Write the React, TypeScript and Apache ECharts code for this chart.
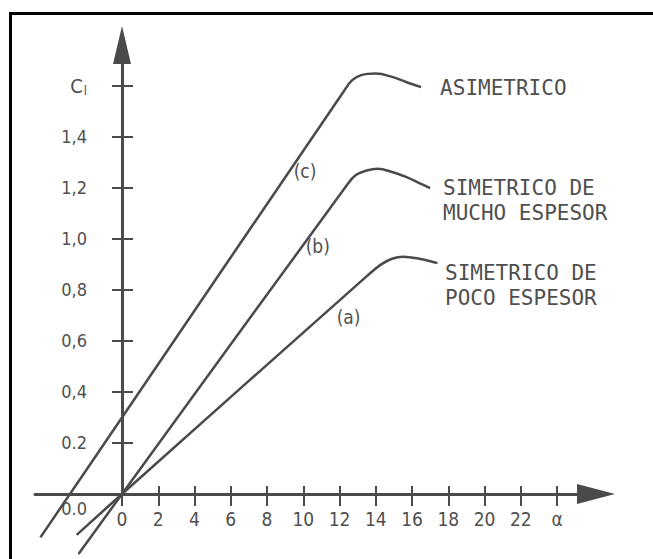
import React, { useEffect, useRef } from 'react';
import * as echarts from 'echarts';

// Axis ticks and labels
const alphaTickValues = [0, 2, 4, 6, 8, 10, 12, 14, 16, 18, 20, 22, 24];
const alphaTickLabels = ['0', '2', '4', '6', '8', '10', '12', '14', '16', '18', '20', '22', 'α'];
const clTickValues = [0.2, 0.4, 0.6, 0.8, 1.0, 1.2, 1.4, 1.6];
const clLabelValues = [0, 0.2, 0.4, 0.6, 0.8, 1.0, 1.2, 1.4, 1.6];
const clTickLabels = ['0.0', '0.2', '0,4', '0,6', '0,8', '1,0', '1,2', '1,4', 'C_l'];

// (c) Asimétrico
const asimAlpha = [-4.5, 0, 12.2, 12.7, 13.2, 14.0, 14.9, 15.7, 16.5];
const asimCl = [-0.17, 0.3, 1.575, 1.622, 1.642, 1.648, 1.635, 1.614, 1.595];
// (b) Simétrico de mucho espesor
const muchoAlpha = [-2.4, 0, 12.4, 12.9, 13.5, 14.1, 14.9, 15.7, 16.4, 17.0];
const muchoCl = [-0.235, 0, 1.21, 1.25, 1.268, 1.275, 1.262, 1.242, 1.219, 1.199];
// (a) Simétrico de poco espesor
const pocoAlpha = [-2.5, 0, 13.6, 14.3, 14.9, 15.5, 16.4, 17.4];
const pocoCl = [-0.16, 0, 0.86, 0.9, 0.922, 0.93, 0.922, 0.905];

const INK = '#4a4a4a';
const TEXT = '#4f4f4f';
const NUM_FONT = "'DejaVu Sans Condensed', 'Liberation Sans Narrow', 'DejaVu Sans', sans-serif";
const NAME_FONT = "'DejaVu Sans Mono', monospace";

const zip = (xs: number[], ys: number[]) => xs.map((x, i) => [x, ys[i]]);

function nameMark(coord: number[], text: string) {
  return {
    coord,
    symbol: 'circle',
    symbolSize: 0,
    label: {
      show: true,
      position: 'right',
      distance: 0,
      formatter: text,
      color: TEXT,
      fontFamily: NAME_FONT,
      fontSize: 21,
      lineHeight: 25,
      align: 'left',
    },
  };
}

function tagMark(coord: number[], text: string) {
  return {
    coord,
    symbol: 'circle',
    symbolSize: 0,
    label: {
      show: true,
      position: 'inside',
      formatter: text,
      color: TEXT,
      fontFamily: NUM_FONT,
      fontSize: 19,
    },
  };
}

function curve(xs: number[], ys: number[], marks: any[]) {
  return {
    type: 'line',
    data: zip(xs, ys),
    showSymbol: false,
    symbol: 'none',
    clip: false,
    smooth: 0.4,
    lineStyle: { color: INK, width: 2.5 },
    markPoint: { silent: true, animation: false, data: marks },
  };
}

const xBase = {
  type: 'value',
  min: -4.8,
  max: 26.15,
  position: 'bottom',
  splitLine: { show: false },
};
const yBase = {
  type: 'value',
  min: 0,
  max: 1.76,
  position: 'left',
  splitLine: { show: false },
};

export default function App() {
  const ref = useRef<HTMLDivElement>(null);
  useEffect(() => {
    const chart = echarts.init(ref.current!, null, { renderer: 'svg' });
    chart.setOption({
      animation: false,
      backgroundColor: '#ffffff',
      grid: { left: 35, right: 57, top: 45, bottom: 65, containLabel: false, outerBoundsMode: 'none' },
      xAxis: [
        {
          ...xBase,
          axisLine: {
            show: true,
            onZero: true,
            symbol: ['none', 'triangle'],
            symbolSize: [20, 38],
            lineStyle: { color: INK, width: 3 },
          },
          axisTick: {
            show: true,
            customValues: alphaTickValues,
            length: 12,
            lineStyle: { color: INK, width: 2 },
          },
          axisLabel: {
            show: true,
            customValues: alphaTickValues,
            margin: 15,
            color: TEXT,
            fontFamily: NUM_FONT,
            fontSize: 19,
            formatter: (v: number) => {
              const i = alphaTickValues.findIndex((t) => Math.abs(t - v) < 1e-6);
              return i >= 0 ? alphaTickLabels[i] : '';
            },
          },
        },
        {
          ...xBase,
          axisLine: { show: false, onZero: true },
          axisTick: {
            show: true,
            inside: true,
            customValues: alphaTickValues,
            length: 8,
            lineStyle: { color: INK, width: 2 },
          },
          axisLabel: { show: false },
        },
      ],
      yAxis: [
        {
          ...yBase,
          axisLine: {
            show: true,
            onZero: true,
            onZeroAxisIndex: 0,
            symbol: ['none', 'triangle'],
            symbolSize: [18, 38],
            lineStyle: { color: INK, width: 3 },
          },
          axisTick: {
            show: true,
            customValues: clTickValues,
            length: 10,
            lineStyle: { color: INK, width: 2 },
          },
          axisLabel: {
            show: true,
            customValues: clLabelValues,
            // labels of an on-zero axis stay at the grid edge, so pull them in
            margin: -52,
            color: TEXT,
            fontFamily: NUM_FONT,
            fontSize: 18,
            formatter: (v: number) => {
              const i = clLabelValues.findIndex((t) => Math.abs(t - v) < 1e-6);
              if (i < 0) return '';
              const t = clTickLabels[i];
              if (i === 0) return '{z|' + t + '}';
              if (t === 'C_l') return '{c|C}{s|l}';
              return t;
            },
            rich: {
              z: { padding: [28, 0, 0, 0], color: TEXT, fontFamily: NUM_FONT, fontSize: 18 },
              c: { color: TEXT, fontFamily: NUM_FONT, fontSize: 20, lineHeight: 22 },
              s: { color: TEXT, fontFamily: NUM_FONT, fontSize: 13, verticalAlign: 'bottom', lineHeight: 12, padding: [0, 0, 0, 1] },
            },
          },
        },
        {
          ...yBase,
          axisLine: { show: false, onZero: true, onZeroAxisIndex: 0 },
          axisTick: {
            show: true,
            inside: true,
            customValues: clTickValues,
            length: 11,
            lineStyle: { color: INK, width: 2 },
          },
          axisLabel: { show: false },
        },
      ],
      series: [
        curve(asimAlpha, asimCl, [
          tagMark([10.1, 1.266], '(c)'),
          nameMark([17.55, 1.591], 'ASIMETRICO'),
        ]),
        curve(muchoAlpha, muchoCl, [
          tagMark([10.8, 0.972], '(b)'),
          nameMark([17.71, 1.152], 'SIMETRICO DE\nMUCHO ESPESOR'),
        ]),
        curve(pocoAlpha, pocoCl, [
          tagMark([12.5, 0.694], '(a)'),
          nameMark([17.82, 0.819], 'SIMETRICO DE\nPOCO ESPESOR'),
        ]),
      ],
    });
    return () => chart.dispose();
  }, []);

  return (
    <div style={{ position: 'fixed', left: 0, top: 0, width: 653, height: 559, background: '#fff' }}>
      <div ref={ref} style={{ position: 'absolute', left: 0, top: 0, width: 653, height: 559 }} />
      <div
        style={{
          position: 'absolute',
          left: 9,
          top: 12,
          right: 0,
          bottom: 0,
          borderTop: '3px solid #000',
          borderLeft: '3px solid #000',
          pointerEvents: 'none',
        }}
      />
    </div>
  );
}
